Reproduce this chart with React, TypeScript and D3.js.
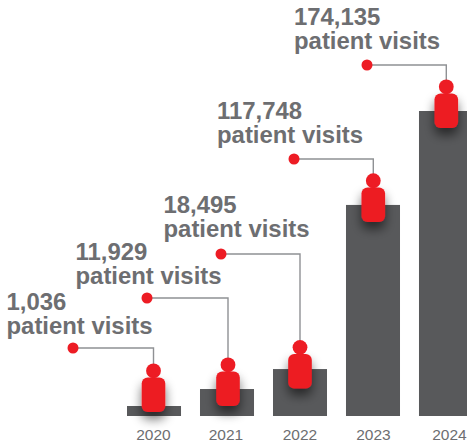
import React from "react";
import * as d3 from "d3";

const years = ["2020", "2021", "2022", "2023", "2024"];
const visitLabels = ["1,036", "11,929", "18,495", "117,748", "174,135"];
// bar heights are drawn larger than true values at the low end
const barValues = [5700, 15400, 26800, 120500, 174135];

const W = 467, H = 443;
const baseline = 416;
const labelX = [6.5, 75.5, 163.5, 217, 294];
const labelY = [310, 260, 213, 119, 25];
const calloutY = [348, 298, 254, 159, 65];
const dotX = [73, 147, 221, 294, 367];
const iconDrop = [6, 17, 19.5, 17, 17];
const iconShift = [-0.5, 1, 0, 0.3, 0.3];
const tickX = [153.5, 226, 300, 373.5, 449.5];

const x = d3.scaleBand<string>().domain(years).range([127, 473]).paddingInner(0.26).paddingOuter(0);
const y = d3.scaleLinear().domain([0, 174135]).range([baseline, 111]);

const RED = "#ed1c24", GREY = "#58595b", TXT = "#6d6e71";
const FONT = "Liberation Sans, Arial, sans-serif";

export default function App() {
  return (
    <svg width={W} height={H} viewBox={`0 0 ${W} ${H}`} style={{ position: "absolute", left: 0, top: 0 }}>
      <defs>
        <filter id="sh" x="-80%" y="-50%" width="260%" height="220%">
          <feGaussianBlur in="SourceAlpha" stdDeviation="5.5" />
          <feOffset dx="0" dy="7" />
          <feComponentTransfer><feFuncA type="linear" slope="0.55" /></feComponentTransfer>
          <feMerge><feMergeNode /><feMergeNode in="SourceGraphic" /></feMerge>
        </filter>
      </defs>
      {years.map((yr, i) => {
        const bx = x(yr)!, bw = x.bandwidth();
        const cx = bx + bw / 2 + iconShift[i];
        const top = y(barValues[i]);
        const bodyBottom = top + iconDrop[i];
        const bodyTop = bodyBottom - 34.5;
        const headY = bodyTop - 6.7;
        const cy = calloutY[i];
        return (
          <g key={yr}>
            <rect x={bx} y={top} width={bw} height={baseline - top} fill={GREY} />
            <path d={d3.line()([[dotX[i], cy], [cx, cy], [cx, headY]])!} fill="none" stroke="#8f9194" strokeWidth={1.4} />
            <circle cx={dotX[i]} cy={cy} r={5.5} fill={RED} />
            <rect x={cx - 11.8} y={bodyTop} width={23.6} height={34.5} rx={6} fill={RED} filter="url(#sh)" />
            <circle cx={cx} cy={headY} r={7.4} fill={RED} />
            <text x={labelX[i]} y={labelY[i]} fontFamily={FONT} fontWeight={700} fontSize={23.9} fill={TXT}>{visitLabels[i]}</text>
            <text x={labelX[i]} y={labelY[i] + 23.5} fontFamily={FONT} fontWeight={700} fontSize={23.9} fill={TXT}>patient visits</text>
            <text x={tickX[i]} y={440} textAnchor="middle" fontFamily={FONT} fontSize={15.5} fill={TXT}>{yr}</text>
          </g>
        );
      })}
    </svg>
  );
}
